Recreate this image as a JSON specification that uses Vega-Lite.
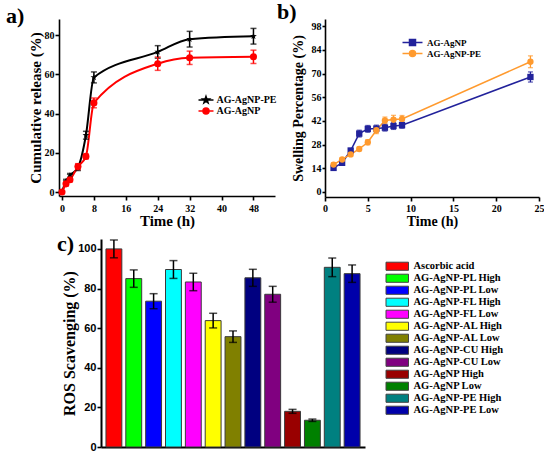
{
  "$schema": "https://vega.github.io/schema/vega-lite/v6.json",
  "background": "white",
  "padding": {"left": 5, "top": 1, "right": 0, "bottom": 0},
  "config": {
    "view": {"stroke": null},
    "font": "Liberation Serif",
    "axis": {
      "grid": false, "domainColor": "black", "domainWidth": 1.6,
      "tickColor": "black", "tickWidth": 1.6, "tickSize": 4, "tickCount": 50, "format": "d",
      "labelFont": "Liberation Serif", "labelFontWeight": "bold", "labelFontSize": 10,
      "labelColor": "black", "labelFlush": false, "labelPadding": 1, "labelOverlap": false,
      "titleFont": "Liberation Serif", "titleFontWeight": "bold", "titleColor": "black"
    },
    "legend": {"labelFont": "Liberation Serif", "labelFontWeight": "bold", "labelColor": "black", "padding": 0},
    "title": {"font": "Liberation Serif", "fontWeight": "bold", "fontSize": 22, "color": "black", "anchor": "start", "frame": "group"}
  },
  "resolve": {"scale": {"color": "independent", "shape": "independent", "x": "independent", "y": "independent"}, "legend": {"color": "independent", "shape": "independent"}},
  "spacing": 5,
  "vconcat": [
    {
      "spacing": 0,
      "resolve": {"scale": {"color": "independent", "shape": "independent", "x": "independent", "y": "independent"}, "legend": {"color": "independent", "shape": "independent"}},
      "hconcat": [
        {"width": 1, "height": 1, "data": {"values": []}, "mark": "point", "encoding": {}},
        {
          "width": 216,
          "height": 177,
          "title": {"text": "a)", "dx": -53, "offset": -9},
          "data": {"values": [
            {"s": "AG-AgNP-PE", "m": "star", "t": 0, "v": 0, "e": 0.5},
            {"s": "AG-AgNP-PE", "m": "star", "t": 1, "v": 5.5, "e": 1},
            {"s": "AG-AgNP-PE", "m": "star", "t": 2, "v": 8.5, "e": 1},
            {"s": "AG-AgNP-PE", "m": "star", "t": 4, "v": 12.5, "e": 1.5},
            {"s": "AG-AgNP-PE", "m": "star", "t": 6, "v": 29, "e": 2},
            {"s": "AG-AgNP-PE", "m": "star", "t": 8, "v": 58.5, "e": 2.8},
            {"s": "AG-AgNP-PE", "m": "star", "t": 24, "v": 71.5, "e": 3.2},
            {"s": "AG-AgNP-PE", "m": "star", "t": 32, "v": 78, "e": 4},
            {"s": "AG-AgNP-PE", "m": "star", "t": 48, "v": 79.5, "e": 4},
            {"s": "AG-AgNP", "m": "dot", "t": 0, "v": 0, "e": 0.5},
            {"s": "AG-AgNP", "m": "dot", "t": 1, "v": 4.2, "e": 1},
            {"s": "AG-AgNP", "m": "dot", "t": 2, "v": 6.3, "e": 1},
            {"s": "AG-AgNP", "m": "dot", "t": 4, "v": 13, "e": 1.5},
            {"s": "AG-AgNP", "m": "dot", "t": 6, "v": 18.2, "e": 1.2},
            {"s": "AG-AgNP", "m": "dot", "t": 8, "v": 45.5, "e": 2.5},
            {"s": "AG-AgNP", "m": "dot", "t": 24, "v": 65.5, "e": 3.4},
            {"s": "AG-AgNP", "m": "dot", "t": 32, "v": 68.5, "e": 3.4},
            {"s": "AG-AgNP", "m": "dot", "t": 48, "v": 69, "e": 3.4}
          ]},
          "layer": [
            {
              "mark": {"type": "line", "interpolate": "monotone", "strokeWidth": 2},
              "encoding": {
                "x": {"field": "t", "type": "quantitative", "scale": {"domain": [-0.75, 53.4], "nice": false, "zero": false},
                      "axis": {"values": [0, 8, 16, 24, 32, 40, 48], "tickCount": 50, "format": "d", "labelPadding": 3, "title": "Time (h)", "titleFontSize": 15, "titlePadding": 0}},
                "y": {"field": "v", "type": "quantitative", "scale": {"domain": [-2, 88.3], "nice": false, "zero": false},
                      "axis": {"values": [0, 20, 40, 60, 80], "tickCount": 50, "format": "d", "title": "Cumulative release (%)", "titleFontSize": 15, "titlePadding": 1}},
                "color": {"field": "s", "type": "nominal",
                          "scale": {"domain": ["AG-AgNP-PE", "AG-AgNP"], "range": ["black", "#ff0000"]},
                          "legend": {
                            "orient": "none", "legendX": 142, "legendY": 76, "title": null,
                            "labelFontSize": 10, "symbolSize": 36, "labelOffset": 5.5, "rowPadding": -3,
                            "symbolStrokeWidth": 1.5,
                            "encode": {"symbols": {"update": {
                              "shape": {"signal": "datum.value === 'AG-AgNP' ? 'M-2.5,0H2.5M-1,0A1,1 0 1 1 1,0A1,1 0 1 1 -1,0Z' : 'M-2.5,0H2.5M0,-1.2L0.28,-0.39L1.14,-0.37L0.46,0.15L0.7,0.97L0,0.48L-0.7,0.97L-0.46,0.15L-1.14,-0.37L-0.28,-0.39Z'"},
                              "fill": {"signal": "datum.value === 'AG-AgNP' ? '#ff0000' : 'black'"},
                              "stroke": {"signal": "datum.value === 'AG-AgNP' ? '#ff0000' : 'black'"},
                              "strokeWidth": {"value": 1.5},
                              "opacity": {"value": 1}
                            }}}
                          }}
              }
            },
            {
              "mark": {"type": "errorbar", "ticks": {"size": 6}, "thickness": 1.5},
              "encoding": {
                "x": {"field": "t", "type": "quantitative"},
                "y": {"field": "v", "type": "quantitative", "title": "Cumulative release (%)"},
                "yError": {"field": "e"},
                "color": {"field": "s", "type": "nominal"}
              }
            },
            {
              "mark": {"type": "point", "filled": true, "opacity": 1},
              "encoding": {
                "x": {"field": "t", "type": "quantitative"},
                "y": {"field": "v", "type": "quantitative"},
                "color": {"field": "s", "type": "nominal"},
                "shape": {"field": "m", "type": "nominal", "legend": null,
                          "scale": {"domain": ["star", "dot"],
                                    "range": ["M0,-1L0.235,-0.324L0.951,-0.309L0.38,0.124L0.588,0.809L0,0.4L-0.588,0.809L-0.38,0.124L-0.951,-0.309L-0.235,-0.324Z", "circle"]}},
                "size": {"value": 50}
              }
            }
          ]
        },
        {
          "width": 214,
          "height": 178,
          "title": {"text": "b)", "dx": -48, "offset": -5},
          "data": {"values": [
            {"s": "AG-AgNP", "m": "sq", "t": 1, "v": 14.2, "e": 1},
            {"s": "AG-AgNP", "m": "sq", "t": 2, "v": 17.2, "e": 1},
            {"s": "AG-AgNP", "m": "sq", "t": 3, "v": 24.5, "e": 1.2},
            {"s": "AG-AgNP", "m": "sq", "t": 4, "v": 34.5, "e": 2},
            {"s": "AG-AgNP", "m": "sq", "t": 5, "v": 37.3, "e": 2},
            {"s": "AG-AgNP", "m": "sq", "t": 6, "v": 37.5, "e": 2},
            {"s": "AG-AgNP", "m": "sq", "t": 7, "v": 38, "e": 2},
            {"s": "AG-AgNP", "m": "sq", "t": 8, "v": 39, "e": 2},
            {"s": "AG-AgNP", "m": "sq", "t": 9, "v": 39.5, "e": 1.8},
            {"s": "AG-AgNP", "m": "sq", "t": 24, "v": 68, "e": 3},
            {"s": "AG-AgNP-PE", "m": "dot", "t": 1, "v": 16.2, "e": 1},
            {"s": "AG-AgNP-PE", "m": "dot", "t": 2, "v": 19.2, "e": 1},
            {"s": "AG-AgNP-PE", "m": "dot", "t": 3, "v": 22.2, "e": 1.2},
            {"s": "AG-AgNP-PE", "m": "dot", "t": 4, "v": 25.4, "e": 1.2},
            {"s": "AG-AgNP-PE", "m": "dot", "t": 5, "v": 29.4, "e": 1.5},
            {"s": "AG-AgNP-PE", "m": "dot", "t": 6, "v": 36.5, "e": 2},
            {"s": "AG-AgNP-PE", "m": "dot", "t": 7, "v": 42.3, "e": 2},
            {"s": "AG-AgNP-PE", "m": "dot", "t": 8, "v": 42.8, "e": 2.5},
            {"s": "AG-AgNP-PE", "m": "dot", "t": 9, "v": 43.2, "e": 2},
            {"s": "AG-AgNP-PE", "m": "dot", "t": 24, "v": 77, "e": 3.5}
          ]},
          "layer": [
            {
              "mark": {"type": "line", "strokeWidth": 1.5},
              "encoding": {
                "x": {"field": "t", "type": "quantitative", "scale": {"domain": [0, 25], "nice": false, "zero": false},
                      "axis": {"values": [0, 5, 10, 15, 20, 25], "tickCount": 50, "format": "d", "labelPadding": 2, "title": "Time (h)", "titleFontSize": 14, "titlePadding": 1}},
                "y": {"field": "v", "type": "quantitative", "scale": {"domain": [-3, 102.3], "nice": false, "zero": false},
                      "axis": {"values": [0, 14, 28, 42, 56, 70, 84, 98], "tickCount": 50, "format": "d", "tickSize": 3, "title": "Swelling Percentage (%)", "titleFontSize": 14, "titlePadding": 6}},
                "color": {"field": "s", "type": "nominal",
                          "scale": {"domain": ["AG-AgNP", "AG-AgNP-PE"], "range": ["#22229b", "#ff9a2e"]},
                          "legend": {
                            "orient": "none", "legendX": 83, "legendY": 19, "title": null,
                            "labelFontSize": 9, "symbolSize": 36, "labelOffset": 10, "rowPadding": -2,
                            "symbolStrokeWidth": 1.5,
                            "encode": {"symbols": {"update": {
                              "shape": {"signal": "datum.value === 'AG-AgNP' ? 'M-3.33,0H3.33M-1,-1H1V1H-1Z' : 'M-3.33,0H3.33M-1,0A1,1 0 1 1 1,0A1,1 0 1 1 -1,0Z'"},
                              "fill": {"signal": "datum.value === 'AG-AgNP' ? '#22229b' : '#ff9a2e'"},
                              "stroke": {"signal": "datum.value === 'AG-AgNP' ? '#22229b' : '#ff9a2e'"},
                              "strokeWidth": {"value": 1.5},
                              "opacity": {"value": 1}
                            }}}
                          }}
              }
            },
            {
              "mark": {"type": "errorbar", "ticks": {"size": 5}, "thickness": 1.3},
              "encoding": {
                "x": {"field": "t", "type": "quantitative"},
                "y": {"field": "v", "type": "quantitative", "title": "Swelling Percentage (%)"},
                "yError": {"field": "e"},
                "color": {"field": "s", "type": "nominal"}
              }
            },
            {
              "mark": {"type": "point", "filled": true, "opacity": 1},
              "encoding": {
                "x": {"field": "t", "type": "quantitative"},
                "y": {"field": "v", "type": "quantitative"},
                "color": {"field": "s", "type": "nominal"},
                "shape": {"field": "m", "type": "nominal", "legend": null,
                          "scale": {"domain": ["sq", "dot"], "range": ["square", "circle"]}},
                "size": {"value": 40}
              }
            }
          ]
        }
      ]
    },
    {
      "spacing": 8,
      "resolve": {"scale": {"color": "independent", "x": "independent", "y": "independent"}, "legend": {"color": "independent"}},
      "hconcat": [
        {"width": 44, "height": 1, "data": {"values": []}, "mark": "point", "encoding": {}},
        {
          "width": 264,
          "height": 208,
          "title": {"text": "c)", "dx": -44, "offset": -17},
          "data": {"values": [
            {"name": "Ascorbic acid", "v": 100, "e": 4.5},
            {"name": "AG-AgNP-PL High", "v": 85, "e": 4.4},
            {"name": "AG-AgNP-PL Low", "v": 73.6, "e": 3.8},
            {"name": "AG-AgNP-FL High", "v": 89.6, "e": 4.5},
            {"name": "AG-AgNP-FL Low", "v": 83.3, "e": 4.4},
            {"name": "AG-AgNP-AL High", "v": 63.8, "e": 3.7},
            {"name": "AG-AgNP-AL Low", "v": 55.7, "e": 2.9},
            {"name": "AG-AgNP-CU High", "v": 85.4, "e": 4.3},
            {"name": "AG-AgNP-CU Low", "v": 77.1, "e": 4},
            {"name": "AG-AgNP High", "v": 18, "e": 1},
            {"name": "AG-AgNP Low", "v": 13.5, "e": 0.6},
            {"name": "AG-AgNP-PE High", "v": 90.7, "e": 4.7},
            {"name": "AG-AgNP-PE Low", "v": 87.5, "e": 4.4}
          ]},
          "layer": [
            {
              "mark": {"type": "bar", "stroke": "#3a3a3a", "strokeWidth": 1},
              "encoding": {
                "x": {"field": "name", "type": "nominal", "sort": null,
                      "scale": {"paddingInner": 0.2, "paddingOuter": 0.25},
                      "axis": {"labels": false, "ticks": false, "title": null, "domainWidth": 2}},
                "y": {"field": "v", "type": "quantitative", "scale": {"domain": [0, 105], "nice": false},
                      "axis": {"values": [0, 20, 40, 60, 80, 100], "tickCount": 50, "format": "d", "title": "ROS Scavenging (%)", "titleFontSize": 16,
                               "titlePadding": 0, "labelPadding": 1, "labelFont": "Liberation Sans", "labelFontSize": 11, "domainWidth": 2}},
                "color": {"field": "name", "type": "nominal",
                          "scale": {
                            "domain": ["Ascorbic acid", "AG-AgNP-PL High", "AG-AgNP-PL Low", "AG-AgNP-FL High", "AG-AgNP-FL Low",
                                       "AG-AgNP-AL High", "AG-AgNP-AL Low", "AG-AgNP-CU High", "AG-AgNP-CU Low",
                                       "AG-AgNP High", "AG-AgNP Low", "AG-AgNP-PE High", "AG-AgNP-PE Low"],
                            "range": ["#ff0000", "#00ff00", "#0000ff", "#00ffff", "#ff00ff", "#ffff00", "#808000",
                                      "#000080", "#800080", "#990000", "#008000", "#008080", "#0000aa"]},
                          "legend": {
                            "orient": "none", "legendX": 291, "legendY": 22, "title": null,
                            "symbolType": "M-2.5,-0.9H2.5V0.9H-2.5Z", "symbolSize": 81,
                            "symbolStrokeColor": "#444444", "symbolStrokeWidth": 1, "symbolOpacity": 1,
                            "labelFontSize": 10.5, "labelOffset": 11, "rowPadding": -3,
                            "encode": {"symbols": {"update": {"stroke": {"value": "#444444"}, "strokeWidth": {"value": 1}}}}
                          }}
              }
            },
            {
              "mark": {"type": "errorbar", "ticks": {"size": 8}, "thickness": 1.5, "color": "black"},
              "encoding": {
                "x": {"field": "name", "type": "nominal", "sort": null},
                "y": {"field": "v", "type": "quantitative", "title": "ROS Scavenging (%)"},
                "yError": {"field": "e"}
              }
            }
          ]
        }
      ]
    }
  ]
}
